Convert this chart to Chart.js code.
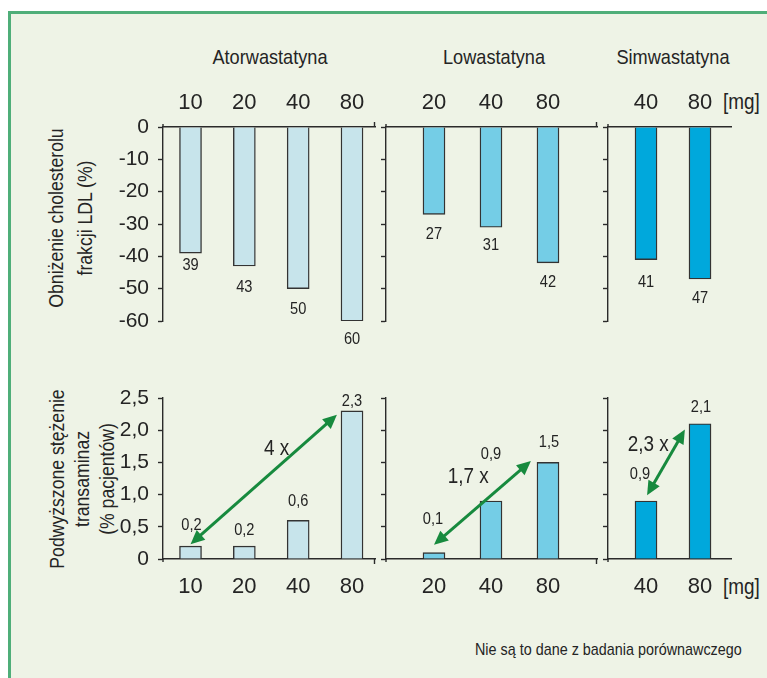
<!DOCTYPE html>
<html lang="pl">
<head>
<meta charset="utf-8">
<title>Statyny: obniżenie LDL i transaminazy</title>
<script src="https://cdn.jsdelivr.net/npm/chart.js@4.4.1/dist/chart.umd.min.js"></script>
<style>
  html, body { margin: 0; padding: 0; background: #fff; }
  body {
    width: 767px; height: 678px; position: relative; overflow: hidden;
    font-family: 'Liberation Sans', Arial, sans-serif;
    color: #242424;
  }
  #frame {
    position: absolute; left: 8px; top: 11px; right: -4px; bottom: -4px;
    background: #eef3e6;
    border-left: 3px solid #4fae79; border-top: 3px solid #4fae79;
  }
  canvas { position: absolute; }
  .txt { position: absolute; white-space: nowrap; line-height: 1; }
  .head { font-size: 21px; transform: translateX(-50%) scaleX(0.865); }
  .mg { font-size: 22px; transform: scaleX(0.86); transform-origin: 0 0; }
  .note { font-size: 17px; transform: scaleX(0.845); transform-origin: 0 0; }
  .ytitle {
    position: absolute; font-size: 20.5px; text-align: center; white-space: nowrap;
    transform: translate(-50%, -50%) rotate(-90deg) scaleX(0.86);
  }
</style>
</head>
<body>
<div id="frame"></div>

<div class="txt head" style="left:270px; top:46px;">Atorwastatyna</div>
<div class="txt head" style="left:494px; top:46px;">Lowastatyna</div>
<div class="txt head" style="left:673px; top:46px;">Simwastatyna</div>

<div class="txt mg" style="left:723px; top:91px;">[mg]</div>
<div class="txt mg" style="left:723px; top:576px;">[mg]</div>

<div class="ytitle" style="left:70px; top:218px; line-height:29px;">Obniżenie cholesterolu<br>frakcji LDL (%)</div>
<div class="ytitle" style="left:81px; top:479px; line-height:25px;">Podwyższone stężenie<br>transaminaz<br>(% pacjentów)</div>

<div class="txt note" style="left:475px; top:641px;">Nie są to dane z badania porównawczego</div>

<canvas id="ldlAtor" width="292" height="320" style="left:90px; top:40px;"></canvas>
<canvas id="ldlLowa" width="226" height="320" style="left:378px; top:40px;"></canvas>
<canvas id="ldlSimwa" width="167" height="320" style="left:600px; top:40px;"></canvas>
<canvas id="trAtor" width="292" height="240" style="left:90px; top:370px;"></canvas>
<canvas id="trLowa" width="226" height="240" style="left:378px; top:370px;"></canvas>
<canvas id="trSimwa" width="167" height="240" style="left:600px; top:370px;"></canvas>

<script>
// Dawki [mg]
const atorDoses = ['10', '20', '40', '80'];
const lowaDoses = ['20', '40', '80'];
const simwaDoses = ['40', '80'];

// Obniżenie cholesterolu frakcji LDL (%)
const atorLdl = [-39, -43, -50, -60];
const lowaLdl = [-27, -31, -42];
const simwaLdl = [-41, -47];

// Podwyższone stężenie transaminaz (% pacjentów)
const atorTrans = [0.2, 0.2, 0.6, 2.3];
const lowaTrans = [0.1, 0.9, 1.5];
const simwaTrans = [0.9, 2.1];

// Krotność wzrostu i strzałki między dawkami: [pozycja dawki, wartość] obu końców
const atorFold = '4 x';
const lowaFold = '1,7 x';
const simwaFold = '2,3 x';
const atorArrow = [[1.0, 0.23], [3.72, 2.24]];
const lowaArrow = [[1.0, 0.22], [2.70, 1.52]];
const simwaArrow = [[1.02, 0.99], [1.72, 2.01]];

// Podziałki osi Y
const ldlTicks = ['0', '-10', '-20', '-30', '-40', '-50', '-60'];
const transTicks = ['0', '0,5', '1,0', '1,5', '2,0', '2,5'];

const FONT = "'Liberation Sans', Arial, sans-serif";
const NARROW = 0.86;          // horizontal squeeze for the condensed lettering
const INK = '#242424';
const AXIS = '#2a2a2a';
const BAR_EDGE = '#333333';
const ARROW = '#178a3e';
const COLORS = { ator: '#c7e4eb', lowa: '#74cde6', simwa: '#00a8dc' };

const fmtComma = v => v.toFixed(1).replace('.', ',');

function narrowText(ctx, text, x, y, size) {
  ctx.save();
  ctx.translate(x, y);
  ctx.scale(NARROW, 1);
  ctx.font = size + 'px ' + FONT;
  ctx.textAlign = 'center';
  ctx.textBaseline = 'middle';
  ctx.fillText(text, 0, 0);
  ctx.restore();
}

// Value labels next to the bar ends
function valueLabels(format, shifts) {
  return {
    id: 'valueLabels',
    afterDatasetsDraw(chart) {
      const { ctx } = chart;
      const meta = chart.getDatasetMeta(0);
      const raw = chart.data.datasets[0].data;
      ctx.save();
      ctx.fillStyle = INK;
      meta.data.forEach((bar, i) => {
        const [dx, dy] = shifts[i];
        narrowText(ctx, format(raw[i].y), bar.x + dx, bar.y + dy, 17);
      });
      ctx.restore();
    }
  };
}

// Double-headed arrow with fold-change caption
function foldArrow(ends, text, at) {
  return {
    id: 'foldArrow',
    afterDatasetsDraw(chart) {
      const { ctx, scales: { x, y } } = chart;
      const p0 = [x.getPixelForValue(ends[0][0]), y.getPixelForValue(ends[0][1])];
      const p1 = [x.getPixelForValue(ends[1][0]), y.getPixelForValue(ends[1][1])];
      const ang = Math.atan2(p1[1] - p0[1], p1[0] - p0[0]);
      const head = 14, half = 6.5;
      const ux = Math.cos(ang), uy = Math.sin(ang);
      ctx.save();
      ctx.strokeStyle = ARROW;
      ctx.fillStyle = ARROW;
      ctx.lineWidth = 3;
      ctx.beginPath();
      ctx.moveTo(p0[0] + ux * (head - 2), p0[1] + uy * (head - 2));
      ctx.lineTo(p1[0] - ux * (head - 2), p1[1] - uy * (head - 2));
      ctx.stroke();
      const tip = (p, dir) => {
        const bx = p[0] - dir * ux * head, by = p[1] - dir * uy * head;
        ctx.beginPath();
        ctx.moveTo(p[0], p[1]);
        ctx.lineTo(bx - uy * half, by + ux * half);
        ctx.lineTo(bx + uy * half, by - ux * half);
        ctx.closePath();
        ctx.fill();
      };
      tip(p1, 1);
      tip(p0, -1);
      ctx.fillStyle = INK;
      narrowText(ctx, text, x.getPixelForValue(at[0]), y.getPixelForValue(at[1]), 22);
      ctx.restore();
    }
  };
}

// Short axis stubs: y-axis overshoot past zero and the hook at the end of the dose axis
function axisEnds(dir, hook) {
  return {
    id: 'axisEnds',
    afterDraw(chart) {
      const { ctx, chartArea: { left, right } } = chart;
      const y0 = chart.scales.y.getPixelForValue(0);
      ctx.save();
      ctx.strokeStyle = AXIS;
      ctx.lineWidth = 1.4;
      ctx.beginPath();
      ctx.moveTo(left, y0);
      ctx.lineTo(left, y0 + dir * 3);
      if (hook) {
        ctx.moveTo(right - 0.5, y0);
        ctx.lineTo(right - 0.5, y0 + dir * 5);
      }
      ctx.stroke();
      ctx.restore();
    }
  };
}

function panel(id, cfg) {
  const top = cfg.row === 'ldl';
  const data = cfg.values.map((v, i) => ({ x: i + 1, y: v }));
  return new Chart(document.getElementById(id), {
    type: 'bar',
    data: {
      datasets: [{
        data,
        backgroundColor: cfg.color,
        borderColor: BAR_EDGE,
        borderWidth: 1.4,
        borderSkipped: 'start',
        barThickness: 22
      }]
    },
    options: {
      responsive: false,
      animation: false,
      devicePixelRatio: 1,
      layout: { padding: cfg.padding },
      plugins: { legend: { display: false }, tooltip: { enabled: false }, title: { display: false } },
      scales: {
        x: {
          type: 'linear',
          position: top ? 'top' : 'bottom',
          offset: false,
          min: cfg.range[0],
          max: cfg.range[1],
          afterBuildTicks: s => { s.ticks = cfg.doses.map((d, i) => ({ value: i + 1 })); },
          afterFit: s => { s.height = cfg.xHeight; },
          grid: { display: false, drawTicks: false, offset: false },
          border: { display: true, color: AXIS, width: 1.4 },
          ticks: {
            callback: v => cfg.doses[Math.round(v) - 1],
            font: { family: FONT, size: 22 },
            color: INK,
            padding: cfg.xPad,
            maxRotation: 0,
            autoSkip: false
          }
        },
        y: {
          min: top ? -60 : 0,
          max: top ? 0 : 2.5,
          afterBuildTicks: s => {
            const labels = top ? ldlTicks : transTicks;
            const step = top ? -10 : 0.5;
            s.ticks = labels.map((t, i) => ({ value: i * step }));
          },
          afterFit: s => { s.width = cfg.yWidth; },
          grid: { display: true, drawOnChartArea: false, drawTicks: true, tickLength: 5, tickColor: AXIS, tickWidth: 1.4, color: AXIS },
          border: { display: true, color: AXIS, width: 1.4 },
          ticks: {
            display: cfg.showY,
            callback: (v, i) => (top ? ldlTicks : transTicks)[i],
            font: { family: FONT, size: 21 },
            color: INK,
            padding: 9
          }
        }
      }
    },
    plugins: cfg.extra
  });
}

const TOP_PAD = { top: 0, bottom: 39 };
const BOT_PAD = { top: 28, bottom: 0 };

// LDL row
panel('ldlAtor', {
  row: 'ldl', doses: atorDoses, values: atorLdl, color: COLORS.ator,
  range: [0.489, 4.427], yWidth: 73, showY: true, xHeight: 87, xPad: 11,
  padding: { ...TOP_PAD, right: 7 },
  extra: [valueLabels(v => String(Math.abs(v)), [[0, 12], [0, 21], [0, 21], [0, 18]]), axisEnds(-1, true)]
});
panel('ldlLowa', {
  row: 'ldl', doses: lowaDoses, values: lowaLdl, color: COLORS.lowa,
  range: [0.158, 3.86], yWidth: 8, showY: false, xHeight: 87, xPad: 11,
  padding: { ...TOP_PAD, right: 7 },
  extra: [valueLabels(v => String(Math.abs(v)), [[0, 20], [0, 18], [0, 20]]), axisEnds(-1, true)]
});
panel('ldlSimwa', {
  row: 'ldl', doses: simwaDoses, values: simwaLdl, color: COLORS.simwa,
  range: [0.296, 2.574], yWidth: 8, showY: false, xHeight: 87, xPad: 11,
  padding: { ...TOP_PAD, right: 36 },
  extra: [valueLabels(v => String(Math.abs(v)), [[0, 23], [0, 19]]), axisEnds(-1, false)]
});

// Transaminase row
panel('trAtor', {
  row: 'trans', doses: atorDoses, values: atorTrans, color: COLORS.ator,
  range: [0.489, 4.427], yWidth: 73, showY: true, xHeight: 51, xPad: 15,
  padding: { ...BOT_PAD, right: 7 },
  extra: [valueLabels(fmtComma, [[1, -21], [0, -16], [0, -19], [0, -10]]),
          foldArrow(atorArrow, atorFold, [2.6, 1.71]), axisEnds(1, true)]
});
panel('trLowa', {
  row: 'trans', doses: lowaDoses, values: lowaTrans, color: COLORS.lowa,
  range: [0.158, 3.86], yWidth: 8, showY: false, xHeight: 51, xPad: 15,
  padding: { ...BOT_PAD, right: 7 },
  extra: [valueLabels(fmtComma, [[-1, -33], [0, -47], [1, -20]]),
          foldArrow(lowaArrow, lowaFold, [1.6, 1.28]), axisEnds(1, true)]
});
panel('trSimwa', {
  row: 'trans', doses: simwaDoses, values: simwaTrans, color: COLORS.simwa,
  range: [0.296, 2.574], yWidth: 8, showY: false, xHeight: 51, xPad: 15,
  padding: { ...BOT_PAD, right: 36 },
  extra: [valueLabels(fmtComma, [[-6, -27], [1, -16]]),
          foldArrow(simwaArrow, simwaFold, [1.04, 1.77]), axisEnds(1, false)]
});
</script>
</body>
</html>
